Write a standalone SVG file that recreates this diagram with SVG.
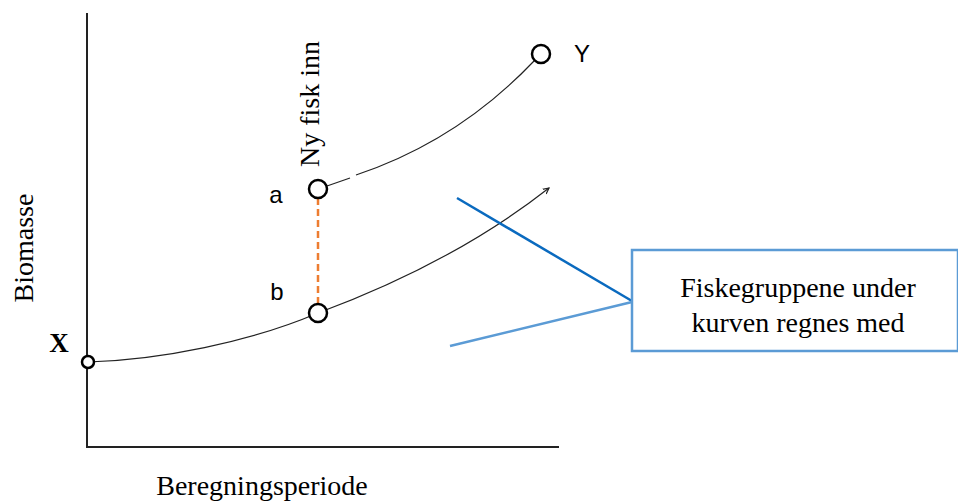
<svg xmlns="http://www.w3.org/2000/svg" width="958" height="502" viewBox="0 0 958 502">
<defs>
<style>
.serif{font-family:"Liberation Serif","Times New Roman",serif;fill:#000}
.sans{font-family:"Liberation Sans",Arial,sans-serif;fill:#000}
.pt{fill:#fff;stroke:#000;stroke-width:2.5}
.curve{fill:none;stroke:#222;stroke-width:1.2}
</style>
<marker id="ah" markerWidth="8" markerHeight="8" refX="6" refY="4" orient="auto" markerUnits="userSpaceOnUse">
<path d="M0,1 L6,4 L0,7" fill="none" stroke="#222" stroke-width="1.2"/>
</marker>
</defs>
<rect width="958" height="502" fill="#fff"/>
<g id="axes" stroke="#222" stroke-width="2">
<line x1="87" y1="13" x2="87" y2="448"/>
<line x1="86" y1="447" x2="559" y2="447"/>
</g>
<text class="serif" font-size="28" transform="translate(33,248) rotate(-90)" text-anchor="middle">Biomasse</text>
<text class="serif" font-size="28" x="262" y="495" text-anchor="middle">Beregningsperiode</text>
<g id="connectors">
<path class="curve" d="M88,362 C160,360 250,342 318,313"/>
<path class="curve" d="M318,313 C380,290 470,250 549,188" marker-end="url(#ah)"/>
<path class="curve" d="M327,186 L350,178"/>
<path class="curve" d="M356,175 C410,157 475,123 534,61"/>
<line x1="318" y1="198" x2="318" y2="304" stroke="#ED7D31" stroke-width="2.5" stroke-dasharray="7,4"/>
<line x1="457" y1="198" x2="632" y2="301" stroke="#0A6ABF" stroke-width="2.5"/>
<line x1="450" y1="346" x2="632" y2="302" stroke="#5B9BD5" stroke-width="2.5"/>
</g>
<g id="nodeX">
<circle class="pt" cx="88" cy="362" r="6" stroke-width="2"/>
<text class="serif" font-size="27" font-weight="bold" x="59" y="352" text-anchor="middle">X</text>
</g>
<g id="nodeA">
<circle class="pt" cx="318" cy="189" r="9"/>
<text class="sans" font-size="24" x="276" y="203" text-anchor="middle">a</text>
<text class="serif" font-size="28" transform="translate(319,104) rotate(-90)" text-anchor="middle">Ny fisk inn</text>
</g>
<g id="nodeB">
<circle class="pt" cx="318" cy="313" r="9"/>
<text class="sans" font-size="24" x="277" y="300" text-anchor="middle">b</text>
</g>
<g id="nodeY">
<circle class="pt" cx="541" cy="54" r="9"/>
<text class="sans" font-size="24" x="582" y="62" text-anchor="middle">Y</text>
</g>
<g id="callout">
<rect x="632" y="250" width="326" height="101" fill="#fff" stroke="#5B9BD5" stroke-width="2.5"/>
<text class="serif" font-size="28" x="798" y="297" text-anchor="middle">Fiskegruppene under</text>
<text class="serif" font-size="28" x="798" y="332" text-anchor="middle">kurven regnes med</text>
</g>
</svg>
